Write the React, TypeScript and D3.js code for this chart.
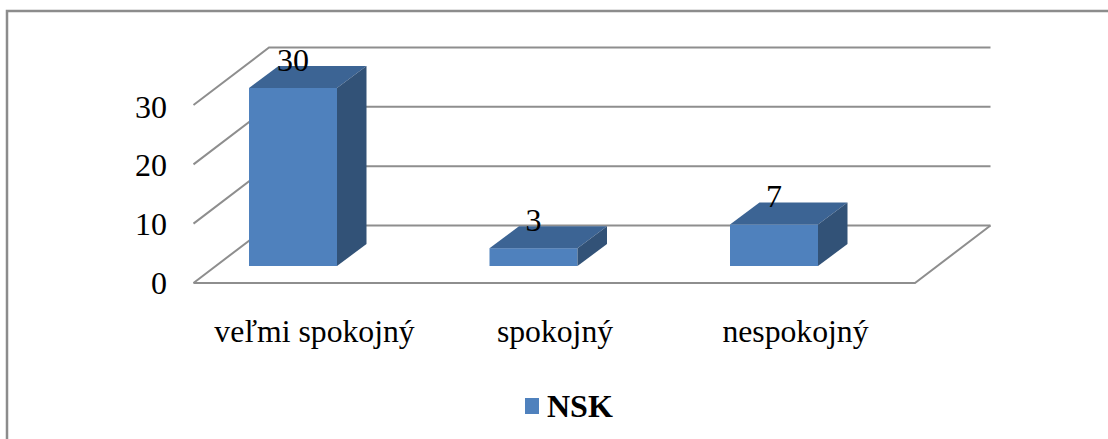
import React from "react";
import * as d3 from "d3";

const categories = ["veľmi spokojný", "spokojný", "nespokojný"];
const values = [30, 3, 7];
const yTicks = [0, 10, 20, 30];
const seriesName = "NSK";

const W = 1108, H = 439;
const font = "'Liberation Serif','Times New Roman',serif";
const FRONT = "#4f81bd", TOP = "#3c6494", SIDE = "#325277", GRID = "#8e8e8e";

// Scales: bar-plane height, floor-front height, tick-label baseline and category centres
const yWall = d3.scaleLinear().domain([0, 30]).range([283, 105]);
const yBar = d3.scaleLinear().domain([0, 30]).range([266, 88]);
const yTickBase = d3.scaleLinear().domain([0, 30]).range([294.3, 117.5]);
const xCenter = d3.scalePoint<string>().domain(categories).range([293, 774]);

const wallLeft = 193.5, wallRight = 915, wallDx = 75.5, wallDy = -57.5;
const barW = 88, barDx = 29.5, barDy = -22;

export default function App() {
  const pts = (p: [number, number][]) => p.map((d) => d.join(",")).join(" ");
  return (
    <svg width={W} height={H} style={{ position: "absolute", left: 0, top: 0, background: "#fff" }}>
      {/* outer frame */}
      <polyline points={pts([[W, 11], [7, 11], [7, H]])} fill="none" stroke="#8c8c8c" strokeWidth={2.5} />

      {/* grid: side wall and back wall */}
      {yTicks.map((t) => {
        const y = yWall(t);
        return (
          <polyline
            key={t}
            points={pts([[wallLeft, y], [wallLeft + wallDx, y + wallDy], [wallRight + wallDx, y + wallDy]])}
            fill="none"
            stroke={GRID}
            strokeWidth={2}
          />
        );
      })}
      {/* floor */}
      <polyline
        points={pts([[wallLeft, yWall(0)], [wallRight, yWall(0)], [wallRight + wallDx, yWall(0) + wallDy]])}
        fill="none"
        stroke={GRID}
        strokeWidth={2}
      />

      {/* bars */}
      {categories.map((c, i) => {
        const cx = xCenter(c)!;
        const x0 = cx - barW / 2, x1 = cx + barW / 2;
        const yT = yBar(values[i]), yB = yBar(0);
        return (
          <g key={c}>
            <rect x={x0} y={yT} width={barW} height={yB - yT} fill={FRONT} />
            <polygon points={pts([[x0, yT], [x0 + barDx, yT + barDy], [x1 + barDx, yT + barDy], [x1, yT]])} fill={TOP} />
            <polygon points={pts([[x1, yT], [x1 + barDx, yT + barDy], [x1 + barDx, yB + barDy], [x1, yB]])} fill={SIDE} />
          </g>
        );
      })}

      {/* value labels */}
      {categories.map((c, i) => (
        <text key={c} x={xCenter(c)!} y={yBar(values[i]) - 17.5} textAnchor="middle" fontFamily={font} fontSize={32} fill="#000">
          {values[i]}
        </text>
      ))}

      {/* y tick labels */}
      {yTicks.map((t) => (
        <text key={t} x={167} y={yTickBase(t)} textAnchor="end" fontFamily={font} fontSize={32} fill="#000">
          {t}
        </text>
      ))}

      {/* category labels */}
      {categories.map((c) => (
        <text key={c} x={xCenter(c)! + 21.5} y={342} textAnchor="middle" fontFamily={font} fontSize={31.7} fill="#000">
          {c}
        </text>
      ))}

      {/* legend */}
      <rect x={525} y={398} width={14} height={16} fill={FRONT} />
      <text x={547} y={417} fontFamily={font} fontSize={32} fontWeight="bold" fill="#000">
        {seriesName}
      </text>
    </svg>
  );
}
